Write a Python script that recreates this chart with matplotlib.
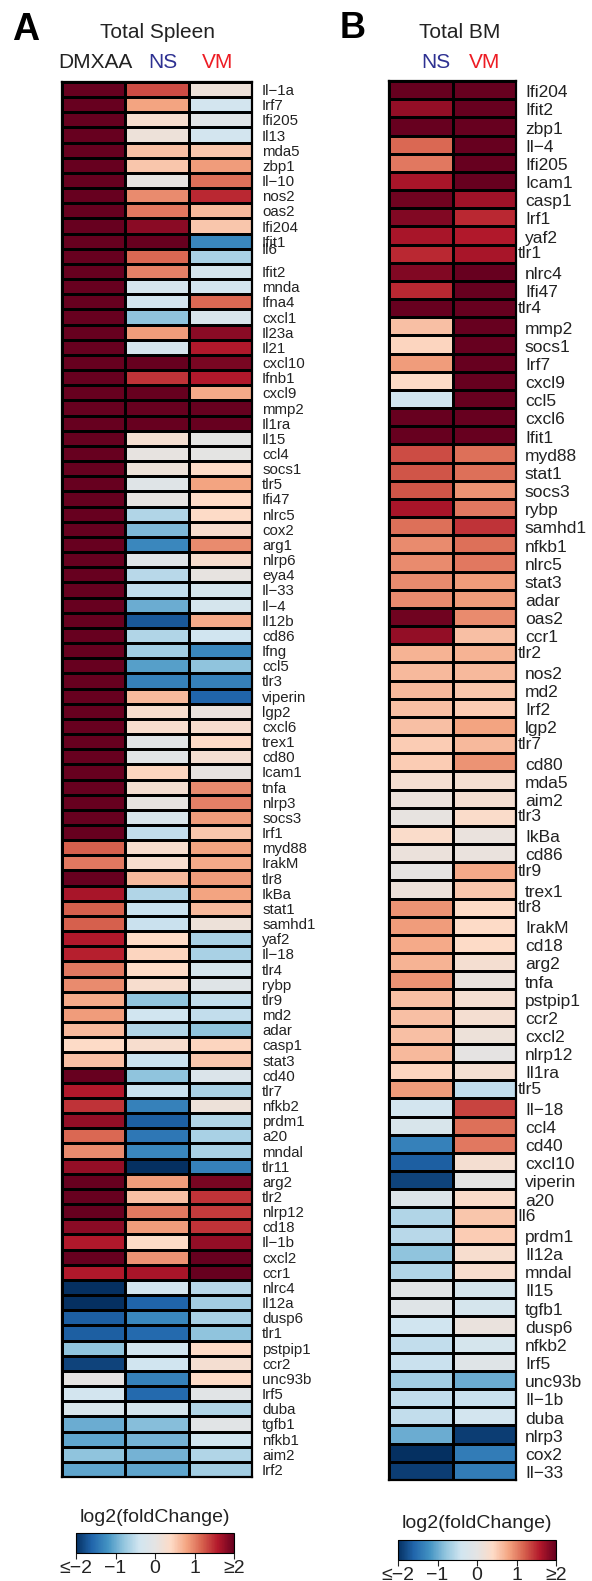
import numpy as np
import matplotlib.pyplot as plt
from matplotlib.colors import LinearSegmentedColormap

plt.rcParams["font.family"] = ["Liberation Sans", "DejaVu Sans"]

W, H = 592, 1581

# ---- Panel A: Total Spleen (DMXAA, NS, VM) ----
genes_a = [
    "Il−1a", "Irf7", "Ifi205", "Il13", "mda5", "zbp1", "Il−10", "nos2", "oas2", "Ifi204",
    "Ifit1", "Il6", "Ifit2", "mnda", "Ifna4", "cxcl1", "Il23a", "Il21", "cxcl10", "Ifnb1",
    "cxcl9", "mmp2", "Il1ra", "Il15", "ccl4", "socs1", "tlr5", "Ifi47", "nlrc5", "cox2",
    "arg1", "nlrp6", "eya4", "Il−33", "Il−4", "Il12b", "cd86", "Ifng", "ccl5", "tlr3",
    "viperin", "lgp2", "cxcl6", "trex1", "cd80", "Icam1", "tnfa", "nlrp3", "socs3", "Irf1",
    "myd88", "IrakM", "tlr8", "IkBa", "stat1", "samhd1", "yaf2", "Il−18", "tlr4", "rybp",
    "tlr9", "md2", "adar", "casp1", "stat3", "cd40", "tlr7", "nfkb2", "prdm1", "a20",
    "mndal", "tlr11", "arg2", "tlr2", "nlrp12", "cd18", "Il−1b", "cxcl2", "ccr1", "nlrc4",
    "Il12a", "dusp6", "tlr1", "pstpip1", "ccr2", "unc93b", "Irf5", "duba", "tgfb1", "nfkb1",
    "aim2", "Irf2",
]
dmxaa_a = [
    2.5, 2.5, 2.5, 2.5, 2.5, 2.5, 2.5, 2.5, 2.5, 2.5,
    2.5, 2.5, 2.5, 2.5, 2.5, 2.5, 2.5, 2.5, 2.5, 2.5,
    2.5, 2.5, 2.5, 2.5, 2.5, 2.5, 2.5, 2.5, 2.5, 2.5,
    2.5, 2.5, 2.5, 2.5, 2.5, 2.5, 2.5, 2.5, 2.5, 2.5,
    2.5, 2.5, 2.5, 2.5, 2.5, 2.5, 2.5, 2.5, 2.1, 2.5,
    1.2, 1.05, 2.1, 1.65, 1.2, 1.2, 1.6, 1.55, 1.05, 0.95,
    0.75, 0.85, 0.65, 0.4, 0.6, 2.5, 1.6, 1.45, 1.75, 1.15,
    0.95, 1.75, 2.5, 2.5, 2.5, 1.8, 1.6, 2.5, 1.6, -2.3,
    -2.3, -1.65, -1.65, -0.8, -1.85, 0.02, -0.35, -0.25, -1.0, -1.05,
    -0.8, -1.05,
]
ns_a = [
    1.3, 0.8, 0.3, 0.15, 0.6, 0.55, 0.05, 0.95, 1.05, 1.8,
    2.5, 1.15, 1.0, -0.3, -0.35, -0.8, 0.85, -0.3, 2.5, 1.45,
    2.1, 2.5, 2.5, 0.25, 0.05, 0.15, -0.1, 0.05, -0.6, -0.9,
    -1.3, -0.1, -0.55, -0.5, -1.0, -1.7, -0.6, -0.7, -1.1, -1.35,
    0.65, 0.3, 0.3, -0.05, -0.05, 0.45, 0.25, 0.05, -0.25, -0.5,
    0.3, 0.3, 0.65, -0.6, -0.45, -0.45, 0.4, 0.45, 0.4, 0.3,
    -0.8, -0.4, -0.6, 0.3, -0.45, -0.8, -0.45, -1.35, -1.65, -1.45,
    -1.3, -2.3, 0.85, 0.6, 1.05, 0.85, 0.4, 0.9, 1.65, -0.35,
    -1.6, -1.3, -1.55, -0.4, -0.4, -1.35, -1.55, -0.3, -0.85, -0.95,
    -0.95, -1.05,
]
vm_a = [
    0.15, -0.35, -0.05, -0.35, 0.55, 0.85, 1.1, 1.5, 0.65, 0.55,
    -1.3, -0.65, -0.3, -0.35, 1.15, -0.25, 1.8, 1.6, 1.9, 1.6,
    0.75, 2.5, 2.5, 0.0, 0.0, 0.4, 0.8, 0.4, 0.4, 0.3,
    0.95, 0.3, 0.05, -0.3, -0.3, 0.75, -0.4, -1.3, -0.8, -1.35,
    -1.6, 0.1, 0.3, 0.4, 0.25, 0.05, 0.95, 1.0, 0.85, 0.55,
    0.8, 0.75, 0.85, 0.8, 0.65, 0.15, -0.65, -0.65, -0.3, -0.1,
    -0.5, -0.5, -0.8, 0.45, 0.55, -0.2, -0.65, 0.15, -0.6, -0.65,
    -0.65, -1.35, 1.9, 1.45, 1.4, 1.45, 1.75, 2.5, 2.5, -0.55,
    -0.7, -0.65, -0.8, 0.4, 0.25, 0.4, -0.05, -0.6, -0.05, -0.4,
    -0.6, -0.7,
]

# ---- Panel B: Total BM (NS, VM) ----
genes_b = [
    "Ifi204", "Ifit2", "zbp1", "Il−4", "Ifi205", "Icam1", "casp1", "Irf1", "yaf2", "tlr1",
    "nlrc4", "Ifi47", "tlr4", "mmp2", "socs1", "Irf7", "cxcl9", "ccl5", "cxcl6", "Ifit1",
    "myd88", "stat1", "socs3", "rybp", "samhd1", "nfkb1", "nlrc5", "stat3", "adar", "oas2",
    "ccr1", "tlr2", "nos2", "md2", "Irf2", "lgp2", "tlr7", "cd80", "mda5", "aim2",
    "tlr3", "IkBa", "cd86", "tlr9", "trex1", "tlr8", "IrakM", "cd18", "arg2", "tnfa",
    "pstpip1", "ccr2", "cxcl2", "nlrp12", "Il1ra", "tlr5", "Il−18", "ccl4", "cd40", "cxcl10",
    "viperin", "a20", "Il6", "prdm1", "Il12a", "mndal", "Il15", "tgfb1", "dusp6", "nfkb2",
    "Irf5", "unc93b", "Il−1b", "duba", "nlrp3", "cox2", "Il−33",
]
ns_b = [
    2.5, 1.75, 2.5, 1.15, 1.05, 1.65, 1.95, 1.85, 1.65, 1.5,
    1.85, 1.5, 2.5, 0.6, 0.45, 0.85, 0.4, -0.4, 2.5, 2.5,
    1.3, 1.25, 1.25, 1.65, 1.1, 0.95, 0.95, 0.95, 0.95, 1.95,
    1.75, 0.7, 0.65, 0.65, 0.6, 0.6, 0.5, 0.5, 0.25, 0.12,
    0.05, 0.35, 0.12, 0.02, 0.15, 0.9, 0.85, 0.75, 0.7, 0.9,
    0.6, 0.6, 0.6, 0.65, 0.45, 0.85, -0.35, -0.25, -1.35, -1.65,
    -1.85, -0.15, -0.6, -0.55, -0.8, -0.6, -0.05, -0.1, -0.4, -0.5,
    -0.45, -0.7, -0.5, -0.5, -1.0, -2.3, -1.9,
]
vm_b = [
    2.5, 2.5, 2.5, 2.5, 2.5, 2.5, 1.7, 1.5, 1.6, 1.65,
    2.5, 2.0, 2.05, 2.5, 2.5, 2.5, 2.5, 2.5, 2.5, 2.5,
    1.1, 1.1, 0.9, 1.05, 1.45, 1.1, 1.05, 0.85, 0.85, 0.95,
    0.6, 0.7, 0.65, 0.55, 0.5, 0.8, 0.65, 0.9, 0.25, 0.25,
    0.35, 0.1, 0.1, 0.75, 0.55, 0.4, 0.4, 0.4, 0.25, 0.1,
    0.25, 0.25, 0.15, 0.03, 0.25, -0.5, 1.35, 1.1, 1.05, 0.25,
    0.0, 0.35, 0.55, 0.5, 0.3, 0.3, -0.3, -0.3, 0.1, -0.3,
    -0.1, -1.0, -0.45, -0.35, -1.9, -1.4, -1.4,
]

colors = ["#053061", "#2166ac", "#4393c3", "#92c5de", "#d1e5f0", "#e4e4e4",
          "#fddbc7", "#f4a582", "#d6604d", "#b2182b", "#67001f"]
cmap = LinearSegmentedColormap.from_list("rdbu_grey", colors, N=256)

fig = plt.figure(figsize=(W / 100, H / 100), dpi=100)


def px_axes(x0, y0, x1, y1):
    return fig.add_axes([x0 / W, 1 - y1 / H, (x1 - x0) / W, (y1 - y0) / H])


def heat(ax, data):
    m = ax.pcolormesh(data, cmap=cmap, vmin=-2, vmax=2,
                      edgecolors="black", linewidth=0.8)
    ax.set_xlim(0, data.shape[1])
    ax.set_ylim(data.shape[0], 0)
    ax.set_xticks([])
    ax.set_yticks([])
    for s in ax.spines.values():
        s.set_linewidth(1.6)
    return m


# panel A
ax_a = px_axes(62, 82, 252, 1477)
mat_a = np.column_stack([dmxaa_a, ns_a, vm_a])
m = heat(ax_a, mat_a)
for i, g in enumerate(genes_a):
    y = i + 0.5
    if g == "Il6":
        y -= 0.55  # sits on top of Ifit1, as in the original figure
    ax_a.text(1.053, y + 0.1, g, transform=ax_a.get_yaxis_transform(),
              ha="left", va="center", fontsize=10.8, color="#222222")

# panel B
ax_b = px_axes(389, 81, 516, 1480)
mat_b = np.column_stack([ns_b, vm_b])
heat(ax_b, mat_b)
for i, g in enumerate(genes_b):
    if g.startswith("tlr") or g == "Il6":
        x, dy = 1.01, 0.0
    else:
        x, dy = 1.07, 0.15
    ax_b.text(x, i + 0.5 + dy, g, transform=ax_b.get_yaxis_transform(),
              ha="left", va="center", fontsize=12.5, color="#222222")


def ftext(x, y, s, **kw):
    fig.text(x / W, 1 - y / H, s, ha="center", va="center", **kw)


ftext(26, 30, "A", fontsize=27, fontweight="bold")
ftext(158, 33, "Total Spleen", fontsize=15, color="#222222")
ftext(95, 63, "DMXAA", fontsize=15, color="#222222")
ftext(163, 63, "NS", fontsize=15, color="#2e3192")
ftext(218, 63, "VM", fontsize=15, color="#ed1c24")

ftext(353, 28, "B", fontsize=26, fontweight="bold")
ftext(460, 33, "Total BM", fontsize=15, color="#222222")
ftext(436, 63, "NS", fontsize=15, color="#2e3192")
ftext(485, 63, "VM", fontsize=15, color="#ed1c24")

# colorbars
for (x0, x1, y0), cx in [((76, 234, 1533), 155), ((398, 556, 1540), 477)]:
    cax = px_axes(x0, y0, x1, y0 + 20)
    cb = fig.colorbar(m, cax=cax, orientation="horizontal")
    cb.set_ticks([-2, -1, 0, 1, 2])
    cb.set_ticklabels(["≤−2", "−1", "0", "1", "≥2"])
    cb.ax.tick_params(labelsize=14, length=4, pad=1, colors="#222222")
    cb.outline.set_linewidth(0.8)
    ftext(cx, y0 - 16, "log2(foldChange)", fontsize=14, color="#222222")

fig.savefig("out.png", dpi=100)
